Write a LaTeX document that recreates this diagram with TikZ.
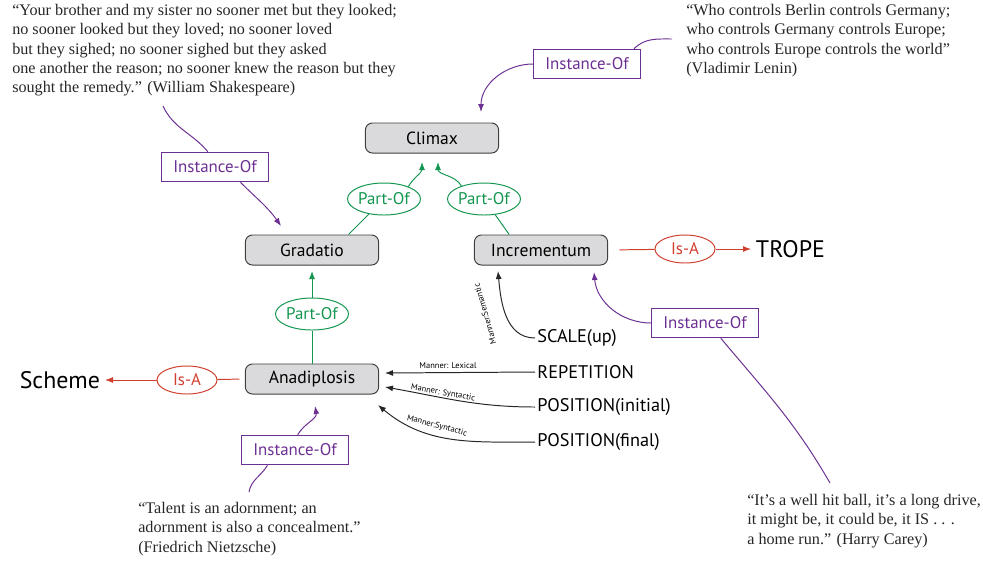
\documentclass[tikz,border=0pt]{standalone}
\usepackage{fontspec}
\setmainfont{Liberation Serif}
\newfontfamily\labelfont{PT Sans}
\usepackage{tikz}
\usetikzlibrary{shapes.geometric,arrows.meta}
\definecolor{instpurple}{RGB}{108,48,146}
\definecolor{partgreen}{RGB}{20,150,80}
\definecolor{isared}{RGB}{208,62,46}
\definecolor{boxgray}{RGB}{218,218,220}

\begin{document}
\begin{tikzpicture}[x=0.025cm, y=-0.025cm,
    >={Latex[length=2mm,width=1.5mm]},
    concept/.style={draw=black!75, fill=boxgray, line width=0.7pt, rounded corners=5pt,
        minimum width=3.33cm, minimum height=0.75cm, font=\labelfont\fontsize{12.5}{14}\selectfont},
    instbox/.style={draw=instpurple, line width=0.7pt, text=instpurple,
        minimum width=2.67cm, minimum height=0.74cm, font=\labelfont\fontsize{12}{14}\selectfont},
    partof/.style={ellipse, draw=partgreen, line width=0.7pt, text=partgreen, inner sep=0pt,
        minimum width=1.7cm, minimum height=0.8cm, font=\labelfont\fontsize{12}{14}\selectfont},
    isa/.style={ellipse, draw=isared, line width=0.7pt, text=isared, inner sep=0pt,
        minimum width=1.5cm, minimum height=0.7cm, font=\labelfont\fontsize{12}{14}\selectfont},
    quote/.style={anchor=north west, align=left, inner sep=0pt, text=black!85,
        font=\fontsize{11.5}{13.7}\selectfont},
    feature/.style={anchor=west, inner sep=1.5pt, font=\labelfont\fontsize{13}{15}\selectfont},
    manner/.style={inner sep=0pt, font=\labelfont\fontsize{6}{7}\selectfont},
    inst/.style={instpurple, line width=0.7pt},
    part/.style={partgreen, line width=0.7pt},
    isaline/.style={isared, line width=0.7pt},
    mline/.style={black!85, line width=0.7pt}
]

    \useasboundingbox (0,0) rectangle (983,561);

    % Concepts
    \node[concept] (climax) at (432,138) {Climax};
    \node[concept] (gradatio) at (312,250) {Gradatio};
    \node[concept] (increm) at (541,250) {Incrementum};
    \node[concept] (anadip) at (312,379) {Anadiplosis};

    % Relation labels
    \node[partof] (po1) at (384,199) {Part-Of};
    \node[partof] (po2) at (484,199) {Part-Of};
    \node[partof] (po3) at (312,314) {Part-Of};
    \node[isa] (isa1) at (685,249) {Is-A};
    \node[isa] (isa2) at (187,380) {Is-A};
    \node[instbox] (io1) at (587,64) {Instance-Of};
    \node[instbox] (io2) at (215,167) {Instance-Of};
    \node[instbox] (io3) at (705,323) {Instance-Of};
    \node[instbox] (io4) at (295,450) {Instance-Of};

    % Classes
    \node[anchor=west, font=\labelfont\fontsize{17}{20}\selectfont] (trope) at (751,249) {TROPE};
    \node[anchor=east, font=\labelfont\fontsize{17}{20}\selectfont] (scheme) at (105,380) {Scheme};

    % Features
    \node[feature] (scale) at (535,338) {SCALE(up)};
    \node[feature] (rep) at (535,372) {REPETITION};
    \node[feature] (posi) at (535,407) {POSITION(initial)};
    \node[feature] (posf) at (535,442) {POSITION(final)};

    % Quotes
    \node[quote] (shak) at (12,4) {``Your brother and my sister no sooner met but they looked;\\
        no sooner looked but they loved; no sooner loved\\
        but they sighed; no sooner sighed but they asked\\
        one another the reason; no sooner knew the reason but they\\
        sought the remedy.'' (William Shakespeare)};
    \node[quote] (lenin) at (686,4) {``Who controls Berlin controls Germany;\\
        who controls Germany controls Europe;\\
        who controls Europe controls the world''\\
        (Vladimir Lenin)};
    \node[quote] (nietz) at (138,502) {``Talent is an adornment; an\\
        adornment is also a concealment.''\\
        (Friedrich Nietzsche)};
    \node[quote] (carey) at (747,494) {``It's a well hit ball, it's a long drive,\\
        it might be, it could be, it IS . . .\\
        a home run.'' (Harry Carey)};

    % Free ends
    \coordinate (qShak) at (163,106);
    \coordinate (qLenin) at (672,39);
    \coordinate (qNietz) at (249,492);
    \coordinate (qCarey) at (830,483);
    \coordinate (tClimaxA) at (422,162);
    \coordinate (tClimaxB) at (438,162);
    \coordinate (tClimaxI) at (481,112);
    \coordinate (tGradI) at (281,226);
    \coordinate (tGradP) at (312,271);
    \coordinate (tIncS) at (498,271);
    \coordinate (tIncI) at (594,272);
    \coordinate (tAnaL) at (385,373);
    \coordinate (tAnaS) at (385,387);
    \coordinate (tAnaF) at (378,405);
    \coordinate (tAnaI) at (315,406);

    % Part-Of
    \draw[part] (gradatio.23) -- (po1);
    \draw[part,->] (po1.27) to[out=60,in=-90] (tClimaxA);
    \draw[part] (increm.154) -- (po2);
    \draw[part,->] (po2.150) to[out=120,in=-90] (tClimaxB);
    \draw[part] (anadip) -- (po3);
    \draw[part,->] (po3) -- (tGradP);

    % Is-A
    \draw[isaline, shorten <=8pt] (increm.east) -- (isa1);
    \draw[isaline,->] (isa1) -- (trope);
    \draw[isaline, shorten <=4pt] (anadip.west) -- (isa2);
    \draw[isaline,->] (isa2) -- (scheme);

    % Instance-Of
    \draw[inst] (qLenin) to[out=180,in=45] (io1.18);
    \draw[inst,->] (io1.west) to[out=180,in=90] (tClimaxI);
    \draw[inst] (qShak) to[out=-65,in=130] (io2.115);
    \draw[inst,->] (io2.-31) to[out=-45,in=125] (tGradI);
    \draw[inst,->] (io3.west) to[out=180,in=-85] (tIncI);
    \draw[inst] (io3.-44) to[out=-50,in=120] (qCarey);
    \draw[inst,->] (io4.80) to[out=60,in=-80] (tAnaI);
    \draw[inst] (io4.-151) to[out=-120,in=80] (qNietz);

    % Manner
    \draw[mline,->] (scale.west) to[out=180,in=-85] (tIncS);
    \node[manner, rotate=106] (msem) at (485,314) {Manner:Semantic};
    \draw[mline,->] (rep.west) -- (tAnaL);
    \node[manner] (mlex) at (448,366) {Manner: Lexical};
    \draw[mline,->] (posi.west) to[out=180,in=-10] (tAnaS);
    \node[manner, rotate=-10] (msyn1) at (443,393) {Manner: Syntactic};
    \draw[mline,->] (posf.west) to[out=180,in=-40] (tAnaF);
    \node[manner, rotate=-15] (msyn2) at (437,426) {Manner:Syntactic};

\end{tikzpicture}
\end{document}
